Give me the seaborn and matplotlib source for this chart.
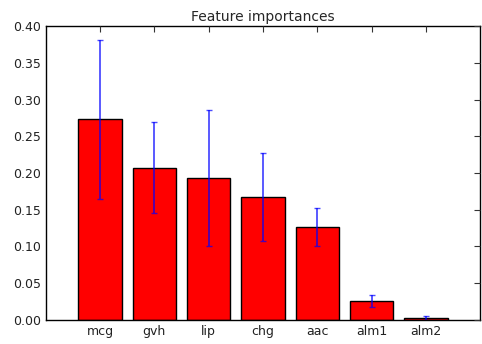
import seaborn as sns
import matplotlib.pyplot as plt

features = ["mcg", "gvh", "lip", "chg", "aac", "alm1", "alm2"]
importances = [0.273, 0.207, 0.193, 0.167, 0.126, 0.026, 0.003]
std = [0.108, 0.062, 0.093, 0.060, 0.026, 0.008, 0.003]

sns.set_style("white")
plt.rcParams["font.family"] = ["DejaVu Sans"]
plt.rcParams["xtick.direction"] = "in"
plt.rcParams["ytick.direction"] = "in"

fig = plt.figure(figsize=(4.82, 3.44), dpi=100)
ax = fig.add_axes([0.095, 0.07, 0.901, 0.854])

sns.barplot(x=features, y=importances, color="red", saturation=1,
            edgecolor="black", linewidth=1, errorbar=None, width=0.8, ax=ax)
ax.errorbar(range(len(features)), importances, yerr=std, fmt="none",
            ecolor="blue", alpha=0.7, elinewidth=1.3, capsize=2.5)

ax.set_xlim(-1, len(features))
ax.set_ylim(0, 0.40)
ax.set_yticks([0.0, 0.05, 0.10, 0.15, 0.20, 0.25, 0.30, 0.35, 0.40])
ax.set_yticklabels(["0.00", "0.05", "0.10", "0.15", "0.20", "0.25", "0.30", "0.35", "0.40"])
ax.tick_params(axis="both", labelsize=9, length=4, top=True, right=True, colors="#333333")
ax.tick_params(axis="both", labelcolor="#222222")
ax.set_axisbelow(False)
for s in ax.spines.values():
    s.set_color("black")
    s.set_linewidth(1)
ax.set_xlabel("")
ax.set_ylabel("")
ax.set_title("Feature importances", fontsize=10, pad=4)

plt.savefig("out.png", dpi=100)
plt.close()
